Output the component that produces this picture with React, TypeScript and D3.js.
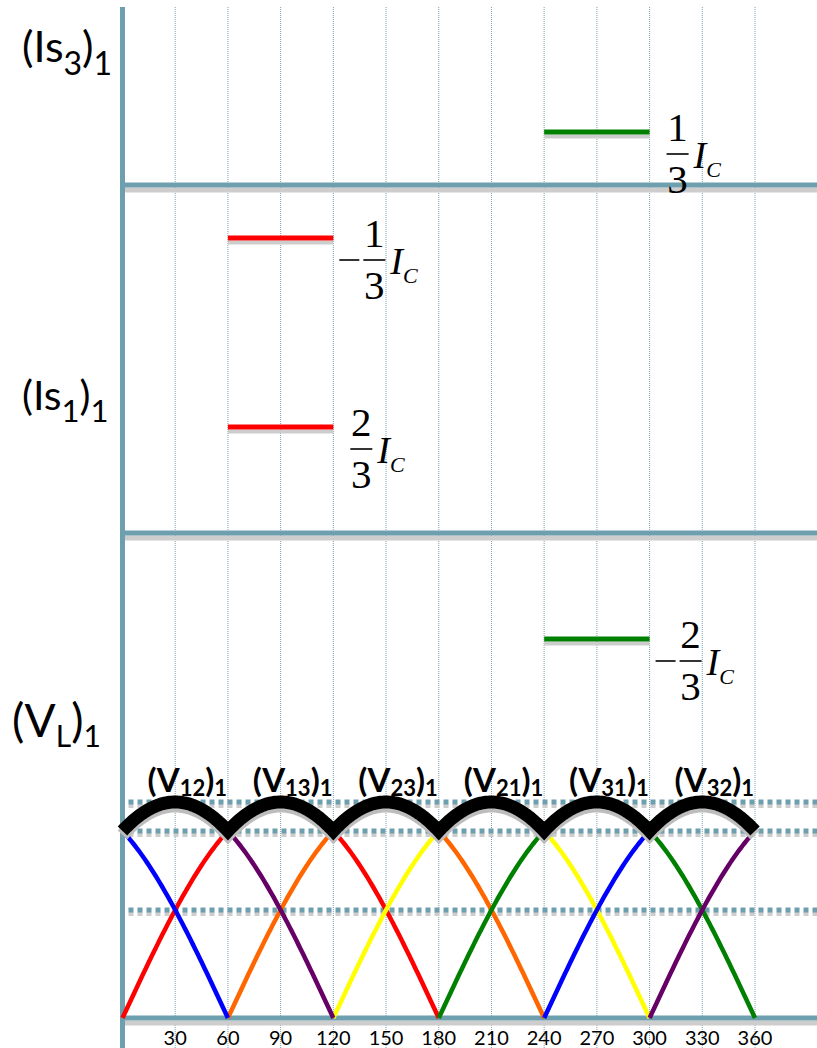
import React from "react";
import * as d3 from "d3";

// Firing-angle axis (degrees)
const angleTicks = [30, 60, 90, 120, 150, 180, 210, 240, 270, 300, 330, 360];

// Fundamental source-current pulses, in units of I_C
const pulsePanel = ["Is3", "Is3", "Is1", "Is1"];
const pulseFrom = [60, 240, 60, 240];
const pulseTo = [120, 300, 120, 300];
const pulseNumerator = [-1, 1, 2, -2];
const pulseDenominator = [3, 3, 3, 3];
const pulseColor = ["#ff0000", "#008000", "#ff0000", "#008000"];

// Line-to-line voltage half waves: phase of each zero crossing (deg) and colour
const wavePhase = [0, 60, 120, 180, 240, 300];
const waveColor = ["#ff0000", "#ff6600", "#ffff00", "#008000", "#0000ff", "#660066"];

// Conducting pair for each 60° interval of the rectified output
const envelopeFrom = [0, 60, 120, 180, 240, 300];
const envelopeTo = [60, 120, 180, 240, 300, 360];
const envelopeSub = ["12", "13", "23", "21", "31", "32"];

// Reference levels of the output voltage, per unit of the peak
const referenceLevels = [1, 0.866, 0.5];

const W = 817;
const H = 1048;
const AXIS = "#6e9fae";
const GRID = "#7aa2b1";
const SHADOW = "#cdcdcd";

const x = d3.scaleLinear().domain([0, 360]).range([122.5, 755]);

// Baselines of the stacked panels
const panelBase: Record<string, number> = { Is3: 185, Is1: 533 };
const currentScale = (panel: string) =>
  d3.scaleLinear().domain([0, 1]).range([panelBase[panel], panelBase[panel] - 159]);

const vBase = 1018;
const yV = d3.scaleLinear().domain([0, 1]).range([vBase, 802]);

const rad = (deg: number) => (deg * Math.PI) / 180;
const wave = (phase: number, deg: number) => Math.sin(rad(deg - phase));

// sample a sine half wave starting at `phase`, clipped to the 0..360 window
function halfWave(phase: number): [number, number][] {
  const pts: [number, number][] = [];
  for (const start of [phase - 360, phase]) {
    const a0 = Math.max(0, start);
    const a1 = Math.min(360, start + 180);
    if (a1 <= a0) continue;
    for (let a = a0; a <= a1 + 1e-9; a += 1) pts.push([a, wave(start, a)]);
    pts.push([NaN, NaN]);
  }
  return pts;
}

const lineGen = d3
  .line<[number, number]>()
  .defined((d) => !isNaN(d[0]))
  .x((d) => x(d[0]))
  .y((d) => yV(d[1]));

function envelopePoints(): [number, number][] {
  const pts: [number, number][] = [];
  for (let a = 0; a <= 360; a += 1) {
    let m = -Infinity;
    for (const p of wavePhase) {
      m = Math.max(m, wave(p, a), wave(p - 360, a));
    }
    pts.push([a, m]);
  }
  return pts;
}

function Fraction({ segEndX, segY, num, den }: { segEndX: number; segY: number; num: number; den: number }) {
  const negative = num < 0;
  const barY = segY + 22;
  const barX0 = segEndX + (negative ? 30 : 17);
  const barW = 22;
  const cx = barX0 + barW / 2;
  const serif = "'Liberation Serif', 'Times New Roman', serif";
  return (
    <g fill="#000" fontFamily={serif}>
      {negative && (
        <line x1={segEndX + 6} x2={segEndX + 26} y1={barY} y2={barY} stroke="#000" strokeWidth={1.6} />
      )}
      <text x={cx} y={barY - 13} fontSize={41} textAnchor="middle">
        {Math.abs(num)}
      </text>
      <line x1={barX0} x2={barX0 + barW} y1={barY} y2={barY} stroke="#000" strokeWidth={1.6} />
      <text x={cx} y={barY + 39} fontSize={41} textAnchor="middle">
        {den}
      </text>
      <text x={barX0 + barW + 5} y={barY + 14} fontSize={38} fontStyle="italic">
        I
        <tspan fontSize={22} dy={9}>
          C
        </tspan>
      </text>
    </g>
  );
}

export default function App() {
  const env = envelopePoints();
  const sans = "Lato, 'Open Sans', sans-serif";
  const hLines = [panelBase.Is3, panelBase.Is1, vBase];

  return (
    <svg
      width={W}
      height={H}
      viewBox={`0 0 ${W} ${H}`}
      style={{ position: "absolute", left: 0, top: 0, background: "#fff" }}
    >
      {/* dotted angle grid */}
      {angleTicks.map((a) => (
        <line
          key={`g${a}`}
          x1={x(a)}
          x2={x(a)}
          y1={7}
          y2={H}
          stroke={GRID}
          strokeWidth={1}
          strokeDasharray="1,1"
        />
      ))}

      {/* panel baselines with soft shadow */}
      {hLines.map((y) => (
        <g key={`h${y}`}>
          <rect x={x(0)} y={y + 2.5} width={W - x(0)} height={5} fill={SHADOW} />
          <line x1={x(0)} x2={W} y1={y} y2={y} stroke={AXIS} strokeWidth={5} />
        </g>
      ))}

      {/* vertical axis */}
      <line x1={x(0)} x2={x(0)} y1={7} y2={H} stroke={AXIS} strokeWidth={5} />

      {/* current pulses */}
      {pulsePanel.map((p, i) => {
        const ys = currentScale(p);
        const y = ys(pulseNumerator[i] / pulseDenominator[i]);
        return (
          <g key={`p${i}`}>
            <rect x={x(pulseFrom[i])} y={y + 2.5} width={x(pulseTo[i]) - x(pulseFrom[i])} height={4} fill={SHADOW} />
            <line x1={x(pulseFrom[i])} x2={x(pulseTo[i])} y1={y} y2={y} stroke={pulseColor[i]} strokeWidth={5} />
            <Fraction segEndX={x(pulseTo[i])} segY={y} num={pulseNumerator[i]} den={pulseDenominator[i]} />
          </g>
        );
      })}

      {/* reference levels of the output voltage */}
      {referenceLevels.map((v) => (
        <g key={`r${v}`}>
          <line
            x1={x(0) + 6}
            x2={W}
            y1={yV(v) + 4}
            y2={yV(v) + 4}
            stroke={SHADOW}
            strokeWidth={4}
            strokeDasharray="5,4"
          />
          <line x1={x(0) + 6} x2={W} y1={yV(v)} y2={yV(v)} stroke={AXIS} strokeWidth={5} strokeDasharray="5,4" />
        </g>
      ))}

      {/* line-to-line voltages */}
      {wavePhase.map((p, i) => (
        <path key={`w${p}`} d={lineGen(halfWave(p)) || ""} fill="none" stroke={waveColor[i]} strokeWidth={4.5} />
      ))}

      {/* rectified output envelope */}
      <path
        d={lineGen(env) || ""}
        transform="translate(0,4)"
        fill="none"
        stroke="#bdbdbd"
        strokeWidth={13}
        strokeLinejoin="miter"
      />
      <path d={lineGen(env) || ""} fill="none" stroke="#000" strokeWidth={13} strokeLinejoin="miter" />

      {/* conducting-pair labels */}
      {envelopeSub.map((s, i) => (
        <text
          key={`e${s}`}
          x={x((envelopeFrom[i] + envelopeTo[i]) / 2) + 12}
          y={792}
          textAnchor="middle"
          fontFamily={sans}
          fontWeight={700}
          fontSize={33}
          fill="#000"
        >
          (V
          <tspan fontSize={22} dy={4}>
            {s}
          </tspan>
          <tspan dy={-4}>)</tspan>
          <tspan fontSize={22} dy={4}>
            1
          </tspan>
        </text>
      ))}

      {/* angle tick labels */}
      {angleTicks.map((a) => (
        <text key={`t${a}`} x={x(a)} y={1045} textAnchor="middle" fontFamily={sans} fontSize={20} fill="#000">
          {a}
        </text>
      ))}

      {/* row titles */}
      <text x={22} y={62} fontFamily={sans} fontSize={43} fill="#000">
        (Is
        <tspan fontSize={32} dy={13}>
          3
        </tspan>
        <tspan dy={-13}>)</tspan>
        <tspan fontSize={32} dy={13}>
          1
        </tspan>
      </text>
      <text x={22} y={410} fontFamily={sans} fontSize={41} fill="#000">
        (Is
        <tspan fontSize={31} dy={12}>
          1
        </tspan>
        <tspan dy={-12}>)</tspan>
        <tspan fontSize={31} dy={12}>
          1
        </tspan>
      </text>
      <text x={12} y={737} fontFamily={sans} fontSize={46} fill="#000">
        (V
        <tspan fontSize={30} dy={10}>
          L
        </tspan>
        <tspan dy={-10}>)</tspan>
        <tspan fontSize={30} dy={10}>
          1
        </tspan>
      </text>
    </svg>
  );
}
